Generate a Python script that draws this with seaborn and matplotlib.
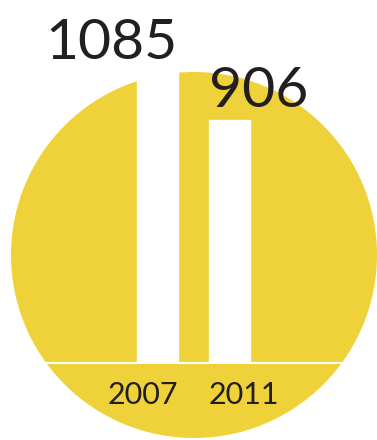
import matplotlib
matplotlib.use('Agg')
import matplotlib.pyplot as plt
import seaborn as sns
import pandas as pd
from matplotlib.patches import Circle

years = ['2007', '2011']
values = [1085, 906]

sns.set_theme(style='white')
plt.rcParams['font.family'] = ['Lato', 'DejaVu Sans']

W, H = 377, 440
YELLOW = '#EFD239'
INK = '#231F20'

fig = plt.figure(figsize=(W / 100, H / 100), dpi=100)

# background yellow disc (decoration)
bg = fig.add_axes([0, 0, 1, 1])
bg.set_xlim(0, W)
bg.set_ylim(H, 0)
bg.set_aspect('equal')
bg.axis('off')
bg.add_patch(Circle((194, 255), 183, color=YELLOW, lw=0))

# bar axes
base_px = 364
px_per_unit = 0.2693
ymax = 1200
ax_h = ymax * px_per_unit
ax = fig.add_axes([0, (H - base_px) / H, 1, ax_h / H])
ax.patch.set_alpha(0)

df = pd.DataFrame({'year': years, 'value': values})
sns.barplot(data=df, x='year', y='value', color='white', width=0.57,
            saturation=1, ax=ax, zorder=3)
ax.set_xlim(-157.5 / 72, (W - 157.5) / 72)
ax.set_ylim(0, ymax)
ax.axhline(0, color='white', lw=3, zorder=4)
ax.axis('off')

for i, p in enumerate(ax.patches):
    if i == 0:
        x, ha = p.get_x() + p.get_width(), 'right'
    else:
        x, ha = p.get_x(), 'left'
    ax.annotate(str(values[i]), (x, p.get_height()), xytext=(0, 9.5),
                textcoords='offset points', ha=ha, va='baseline',
                fontsize=41, color=INK, fontweight='normal')
    ax.annotate(years[i], (x, 0), xytext=(0, -29),
                textcoords='offset points', ha=ha, va='baseline',
                fontsize=22, color=INK)

fig.savefig('out.png', dpi=100)
